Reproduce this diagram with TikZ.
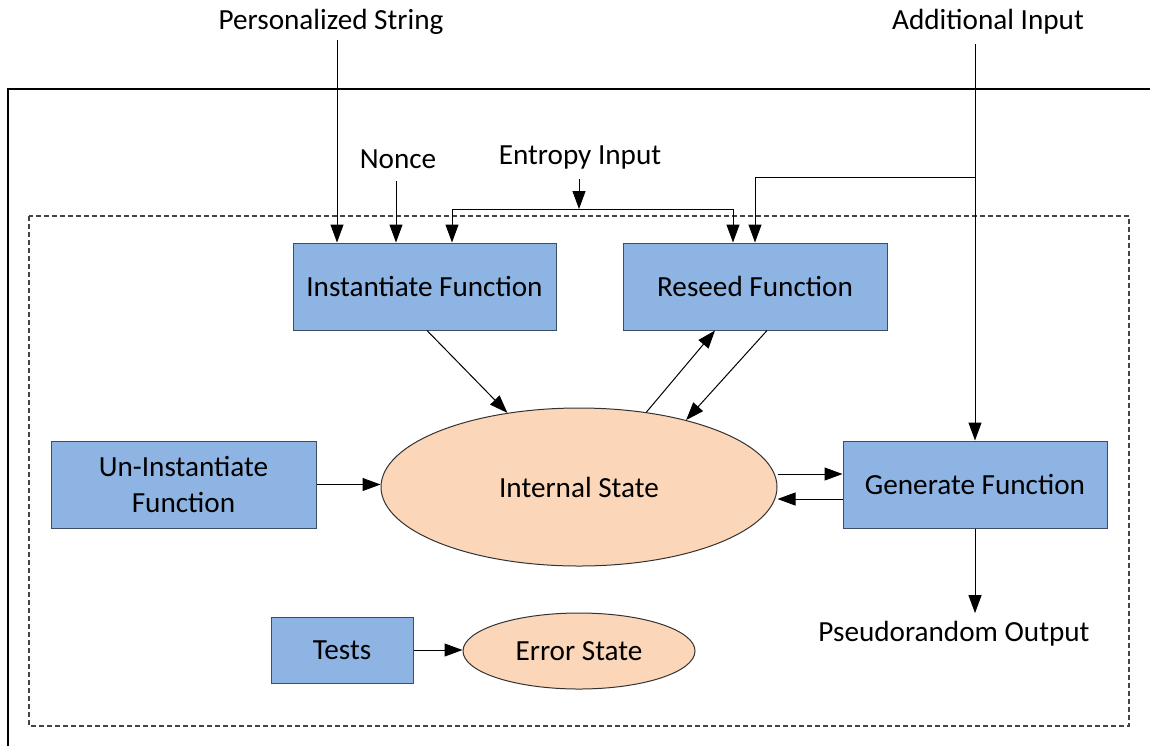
\documentclass[tikz,border=0pt]{standalone}
\usepackage{fontspec}
\setmainfont{Carlito}
\usetikzlibrary{arrows.meta,shapes.geometric,calc}
\definecolor{boxfill}{HTML}{8EB4E3}
\definecolor{boxline}{HTML}{3A4F66}
\definecolor{statefill}{HTML}{FBD6B8}
\definecolor{frameline}{HTML}{444444}
\begin{document}
\begin{tikzpicture}[x=0.5pt,y=-0.5pt,
  every node/.style={font=\fontsize{14.6}{18}\selectfont, inner sep=0pt},
  fnbox/.style={draw=boxline, fill=boxfill, line width=0.5pt, rectangle, align=center},
  statenode/.style={draw=black!80, fill=statefill, line width=0.5pt, ellipse},
  arr/.style={-{Triangle[length=9pt,width=6.5pt]}, line width=0.5pt, draw=black},
  lbl/.style={anchor=center}]
  \useasboundingbox (0,0) rectangle (1150,746);

  % outer frame and the dashed boundary
  \draw[line width=1.3pt] (8,746) -- (8,89) -- (1150,89);
  \draw[frameline, line width=0.55pt, dash pattern=on 2.5pt off 1.5pt] (29,216) rectangle (1129,726);

  % functions and states
  \node[fnbox, minimum width=131.5pt, minimum height=43.5pt] (inst) at (424.5,286.5) {Instantiate Function};
  \node[fnbox, minimum width=132pt, minimum height=43.5pt] (reseed) at (755,286.5) {Reseed Function};
  \node[fnbox, minimum width=132.5pt, minimum height=43.5pt] (uninst) at (183.5,484.5) {Un-Instantiate\\Function};
  \node[fnbox, minimum width=132pt, minimum height=43.5pt] (gen) at (975,484.5) {Generate Function};
  \node[fnbox, minimum width=71pt, minimum height=33pt] (tests) at (342,650) {Tests};
  \node[statenode, minimum width=198pt, minimum height=79pt] (state) at (579,487) {Internal State};
  \node[statenode, minimum width=116pt, minimum height=38pt] (error) at (579,651) {Error State};

  % input and output labels
  \node[lbl] (ps) at (331,22) {Personalized String};
  \node[lbl] (ai) at (988,22) {Additional Input};
  \node[lbl] (nonce) at (398,159) {Nonce};
  \node[lbl] (ent) at (580,157) {Entropy Input};
  \node[lbl] (po) at (954,634) {Pseudorandom Output};

  % personalization string and nonce
  \coordinate (psin) at (337,40);
  \draw[arr] (psin) -- (psin |- inst.north);
  \coordinate (nin) at (396,181);
  \draw[arr] (nin) -- (nin |- inst.north);

  % entropy input feeds both instantiate and reseed
  \coordinate (entin) at (579,179);
  \coordinate (entbr) at (579,209);
  \draw[arr] (entin) -- (entbr);
  \draw[arr] (entbr) -| ([xshift=13.75pt]inst.north);
  \draw[arr] (entbr) -| ([xshift=-11pt]reseed.north);

  % additional input feeds reseed and generate
  \coordinate (adin) at (975,44);
  \coordinate (adbr) at (975,177);
  \draw[arr] (adin) -- (adin |- gen.north);
  \draw[arr] (adbr) -| (reseed.north);

  % state transitions
  \draw[arr] ([xshift=1.25pt]inst.south) -- (state.134);
  \draw[arr] (state.48.5) -- ([xshift=-20pt]reseed.south);
  \draw[arr] ([xshift=6pt]reseed.south) -- (state.32.2);
  \draw[arr] ([yshift=6.5pt]state.east) -- ([yshift=6.5pt]state.east -| gen.west);
  \draw[arr] ([yshift=-7.25pt]gen.west) -- ([yshift=-7.25pt]gen.west -| state.east);
  \draw[arr] (uninst.east) -- (uninst.east -| state.west);
  \draw[arr] (tests.east) -- (tests.east -| error.west);
  \draw[arr] (gen.south) -- ([yshift=4pt]gen.south |- po.north);
\end{tikzpicture}
\end{document}
